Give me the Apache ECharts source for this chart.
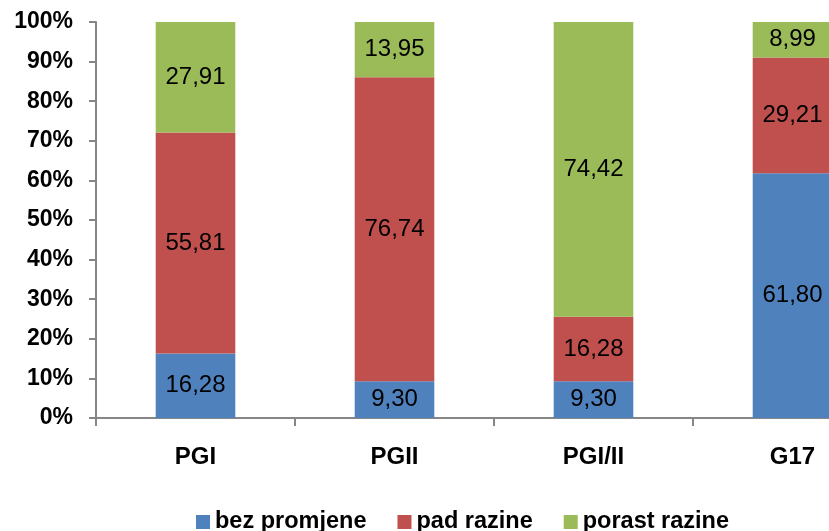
<!DOCTYPE html>
<html><head><meta charset="utf-8">
<script src="https://cdn.jsdelivr.net/npm/echarts@6/dist/echarts.min.js"></script>
<style>html,body{margin:0;padding:0;background:#fff;overflow:hidden;width:829px;height:531px}#c{width:892px;height:531px}</style>
</head><body><div id="c"></div>
<script>
const categories = ['PGI', 'PGII', 'PGI/II', 'G17'];
const seriesNames = ['bez promjene', 'pad razine', 'porast razine'];
const bezPromjene = [16.28, 9.30, 9.30, 61.80];
const padRazine = [55.81, 76.74, 16.28, 29.21];
const porastRazine = [27.91, 13.95, 74.42, 8.99];
const colors = ['#4F81BD', '#C0504D', '#9BBB59'];
const font = 'Liberation Sans, Arial, sans-serif';

const chart = echarts.init(document.getElementById('c'));
const mk = (name, data, color) => ({
  name, type: 'bar', stack: 'a', data, barWidth: '40%',
  itemStyle: { color },
  label: { show: true, position: 'inside', color: '#000', fontFamily: font, fontSize: 24,
    formatter: p => p.value.toFixed(2).replace('.', ',') }
});
chart.setOption({
  animation: false,
  grid: { left: 96, top: 22, bottom: 113, right: 0, containLabel: false },
  legend: {
    top: 505, left: 191, itemWidth: 14, itemHeight: 14, itemGap: 31,
    icon: 'rect',
    textStyle: { fontFamily: font, fontSize: 23.5, fontWeight: 'bold', color: '#000' },
    data: seriesNames
  },
  xAxis: {
    type: 'category', data: categories,
    axisLine: { lineStyle: { color: '#868686', width: 2 } },
    axisTick: { show: true, length: 8, inside: false, lineStyle: { color: '#868686', width: 2 } },
    axisLabel: { margin: 27, fontFamily: font, fontSize: 24, fontWeight: 'bold', color: '#000' }
  },
  yAxis: {
    type: 'value', min: 0, max: 100, interval: 10,
    splitLine: { show: false },
    axisLine: { show: true, lineStyle: { color: '#868686', width: 2 } },
    axisTick: { show: true, length: 7, lineStyle: { color: '#868686', width: 2 } },
    axisLabel: { margin: 23, fontFamily: font, fontSize: 23, fontWeight: 'bold', color: '#000', formatter: '{value}%' }
  },
  series: [
    mk(seriesNames[0], bezPromjene, colors[0]),
    mk(seriesNames[1], padRazine, colors[1]),
    mk(seriesNames[2], porastRazine, colors[2])
  ]
});
</script></body></html>
